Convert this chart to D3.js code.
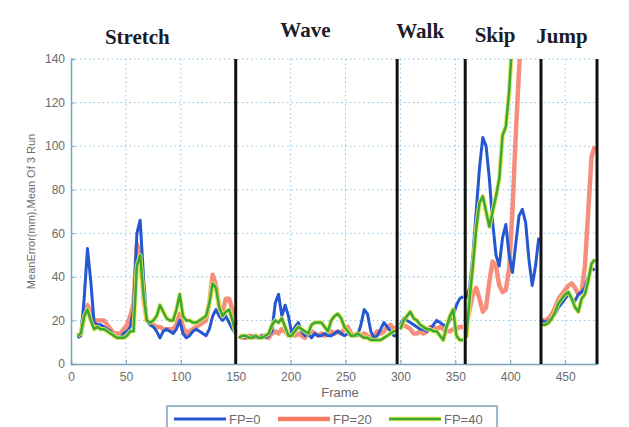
<!DOCTYPE html>
<html>
<head>
<meta charset="utf-8">
<script src="https://cdn.jsdelivr.net/npm/d3@7"></script>
<style>
  body { margin: 0; background: #fff; }
  text { font-family: "Liberation Sans", Arial, sans-serif; }
</style>
</head>
<body>
<div id="chart"></div>
<script>
// activities and where they start/end (frame)
const activities = ["Stretch", "Wave", "Walk", "Skip", "Jump"];
const boundaries = [0, 150, 297, 359, 428, 479];

const xTicks = [0, 50, 100, 150, 200, 250, 300, 350, 400, 450];
const yTicks = [0, 20, 40, 60, 80, 100, 120, 140];

// frames sampled every 3 frames, 6..477
const frames = d3.range(6, 478, 3);

const fp0 = [
  // stretch
  12, 13, 30, 53, 38, 19, 18, 18, 17, 16, 15, 13, 12, 12, 14, 15, 17, 25, 60, 66,
  40, 20, 18, 17, 15, 12, 15, 16, 15, 14, 16, 20, 14, 12, 13, 15, 16, 15, 14, 13,
  16, 22, 25, 22, 20, 22, 19, 16, 14,
  // wave
  12, 13, 12, 12, 13, 12, 12, 13, 12, 13, 15, 28, 32, 22, 27, 22, 14, 17, 19, 15,
  13, 14, 12, 14, 13, 13, 14, 13, 13, 14, 15, 14, 13, 14, 13, 13, 13, 18, 25, 23,
  15, 12, 13, 16, 19, 17, 15, 13, 13,
  // walk
  18, 21, 20, 19, 18, 17, 16, 16, 15, 16, 18, 20, 19, 18, 17, 20, 22, 27, 30, 31, 30,
  // skip
  35, 50, 70, 90, 104, 100, 85, 65, 50, 45, 58, 64, 50, 42, 55, 68, 71, 65, 48, 36, 45, 58,
  // jump
  20, 19, 20, 21, 23, 26, 28, 30, 32, 30, 29, 32, 33, 35, 40, 44, 43
];

const fp20 = [
  13, 14, 22, 27, 24, 20, 20, 20, 20, 18, 16, 14, 14, 14, 16, 18, 22, 28, 55, 52,
  30, 20, 19, 18, 17, 17, 16, 16, 16, 16, 18, 23, 17, 14, 15, 16, 17, 18, 19, 20,
  28, 41, 36, 26, 24, 30, 30, 25, 18,
  13, 12, 12, 13, 12, 13, 12, 13, 13, 12, 14, 15, 14, 16, 15, 13, 14, 13, 14, 13,
  12, 14, 15, 14, 13, 14, 13, 14, 15, 14, 15, 14, 16, 17, 14, 13, 14, 13, 14, 13,
  12, 13, 15, 14, 15, 17, 18, 16, 17,
  17, 18, 17, 16, 14, 14, 15, 14, 15, 17, 17, 16, 17, 16, 15, 15, 16, 16, 17, 17, 18,
  25, 32, 35, 30, 24, 26, 38, 47, 45, 36, 33, 34, 44, 70, 105, 135, 160, 175, 180, 180, 180, 180,
  20, 20, 21, 23, 26, 30, 32, 34, 36, 37, 35, 32, 33, 45, 70, 95, 100
];

const fp40 = [
  13, 14, 22, 25, 20, 16, 17, 16, 16, 15, 14, 13, 12, 12, 12, 13, 15, 15, 45, 50,
  32, 20, 19, 20, 22, 27, 24, 21, 20, 20, 25, 32, 22, 20, 20, 19, 19, 20, 21, 22,
  28, 37, 35, 26, 22, 24, 25, 20, 14,
  12, 13, 13, 12, 12, 13, 12, 12, 13, 14, 18, 20, 19, 21, 17, 13, 13, 15, 17, 16,
  15, 14, 18, 19, 19, 19, 17, 15, 20, 22, 23, 21, 17, 15, 13, 13, 14, 13, 12, 12,
  11, 11, 11, 11, 12, 13, 14, 15, 15,
  16, 20, 22, 24, 21, 20, 18, 17, 16, 16, 15, 15, 13, 11, 17, 22, 25, 13, 11, 11, 12,
  30, 45, 62, 74, 77, 70, 63, 70, 77, 85, 105, 109, 125, 150, 170, 180, 180, 180, 180, 180, 180, 180,
  18, 18, 19, 21, 24, 28, 30, 32, 33, 30, 26, 24, 30, 32, 38, 46, 48
];

const seriesNames = ["FP=0", "FP=20", "FP=40"];

// layout
const W = 629, H = 427;
const plot = { left: 71, right: 597, top: 59, bottom: 364 };
const titleDx = [-16, -11, -11, -8, -7];
const titleY = [44, 37, 38, 42, 43];

const svg = d3.select("#chart").append("svg")
  .attr("width", W).attr("height", H);

const x = d3.scaleLinear().domain([0, 479]).range([plot.left, plot.right]);
const y = d3.scaleLinear().domain([0, 140]).range([plot.bottom, plot.top]);

// grid
svg.append("g").selectAll("line").data(xTicks.filter(d => d > 0)).enter()
  .append("line")
  .attr("x1", d => x(d)).attr("x2", d => x(d))
  .attr("y1", plot.top).attr("y2", plot.bottom)
  .attr("stroke", "#8ec3e6").attr("stroke-width", 1)
  .attr("stroke-dasharray", "1.5,3");
svg.append("g").selectAll("line").data(yTicks.filter(d => d > 0)).enter()
  .append("line")
  .attr("x1", plot.left).attr("x2", plot.right)
  .attr("y1", d => y(d)).attr("y2", d => y(d))
  .attr("stroke", "#8ec3e6").attr("stroke-width", 1)
  .attr("stroke-dasharray", "1.5,3");

// axes
const xAxis = svg.append("g")
  .attr("transform", "translate(0," + plot.bottom + ")")
  .call(d3.axisBottom(x).tickValues(xTicks).tickSize(-4).tickPadding(8));
const yAxis = svg.append("g")
  .attr("transform", "translate(" + plot.left + ",0)")
  .call(d3.axisLeft(y).tickValues(yTicks).tickSize(-4).tickPadding(6));
[xAxis, yAxis].forEach(g => {
  g.select(".domain").attr("stroke", "#7aa3bd").attr("stroke-width", 1.5);
  g.selectAll(".tick line").attr("stroke", "#7aa3bd");
  g.selectAll("text").attr("fill", "#6b6b6b").style("font-size", "12px");
});

// lines, clipped to plot
svg.append("clipPath").attr("id", "clip")
  .append("rect")
  .attr("x", plot.left).attr("y", plot.top)
  .attr("width", plot.right - plot.left).attr("height", plot.bottom - plot.top);

const lineGen = d3.line()
  .x(d => x(d[0]))
  .y(d => y(d[1]));

function segments(values) {
  const pts = frames.map((f, i) => [f, values[i]]);
  const out = [];
  for (let s = 0; s < activities.length; s++) {
    out.push(pts.filter(p => p[0] > boundaries[s] && p[0] <= boundaries[s + 1]));
  }
  return out;
}

const lines = svg.append("g").attr("clip-path", "url(#clip)");

function drawSeries(values, color, width, opacity) {
  lines.append("g").selectAll("path").data(segments(values)).enter()
    .append("path")
    .attr("d", lineGen)
    .attr("fill", "none")
    .attr("stroke", color)
    .attr("stroke-width", width)
    .attr("stroke-opacity", opacity)
    .attr("stroke-linejoin", "round");
}

drawSeries(fp20, "#f47a66", 4.5, 0.85);
drawSeries(fp0, "#2457d0", 3, 1);
drawSeries(fp40, "#e6e84a", 4.5, 0.9);
drawSeries(fp40, "#3aa83a", 2.5, 1);

// activity boundaries
svg.append("g").selectAll("line").data(boundaries.slice(1)).enter()
  .append("line")
  .attr("x1", d => x(d)).attr("x2", d => x(d))
  .attr("y1", plot.top).attr("y2", plot.bottom)
  .attr("stroke", "#111").attr("stroke-width", 3);

// activity titles
svg.append("g").selectAll("text").data(activities).enter()
  .append("text")
  .attr("x", (d, i) => x((boundaries[i] + boundaries[i + 1]) / 2) + titleDx[i])
  .attr("y", (d, i) => titleY[i])
  .attr("text-anchor", "middle")
  .style("font-family", "'Liberation Serif', 'Times New Roman', serif")
  .style("font-weight", "bold")
  .style("font-size", "21px")
  .attr("fill", "#1c1c2a")
  .text(d => d);

// axis labels
svg.append("text")
  .attr("transform", "translate(35," + ((plot.top + plot.bottom) / 2) + ") rotate(-90)")
  .attr("text-anchor", "middle")
  .attr("fill", "#6b6b6b")
  .style("font-size", "11px")
  .text("MeanError(mm),Mean Of 3 Run");

svg.append("text")
  .attr("x", 340).attr("y", 397)
  .attr("text-anchor", "middle")
  .attr("fill", "#6b6b6b")
  .style("font-size", "13px")
  .text("Frame");

// legend
const legend = svg.append("g").attr("transform", "translate(167,406)");
legend.append("rect")
  .attr("width", 330).attr("height", 26)
  .attr("fill", "#fff").attr("stroke", "#7aa3bd").attr("stroke-width", 1.5);
const legendItems = [
  { name: seriesNames[0], color: "#2457d0", w: 3, x: 7 },
  { name: seriesNames[1], color: "#f47a66", w: 4.5, x: 111 },
  { name: seriesNames[2], color: "#3aa83a", w: 2.5, x: 222 }
];
legendItems.forEach((it, i) => {
  if (i === 2) {
    legend.append("line")
      .attr("x1", it.x).attr("x2", it.x + 52).attr("y1", 13).attr("y2", 13)
      .attr("stroke", "#e6e84a").attr("stroke-width", 4.5);
  }
  legend.append("line")
    .attr("x1", it.x).attr("x2", it.x + 52).attr("y1", 13).attr("y2", 13)
    .attr("stroke", it.color).attr("stroke-width", it.w);
  legend.append("text")
    .attr("x", it.x + 55).attr("y", 18)
    .attr("fill", "#6b6b6b")
    .style("font-size", "13px")
    .text(it.name);
});
</script>
</body>
</html>
